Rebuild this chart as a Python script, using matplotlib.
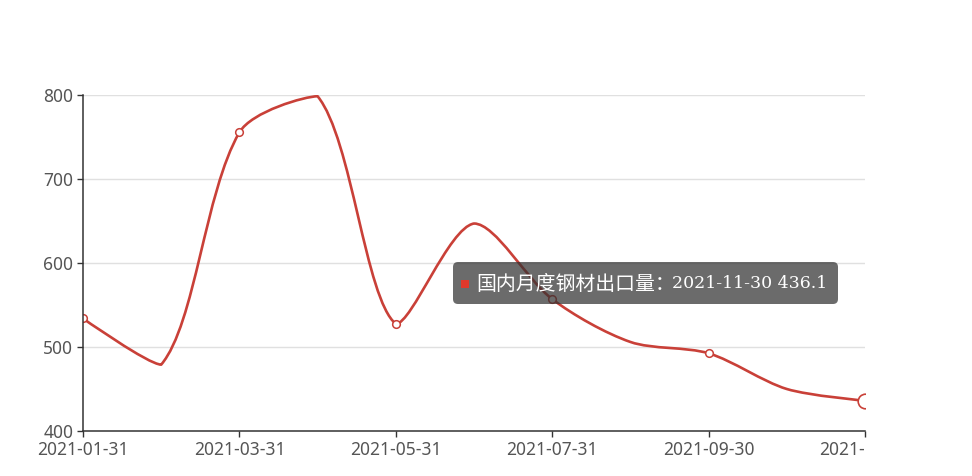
import matplotlib
matplotlib.use("Agg")
import matplotlib.pyplot as plt
import matplotlib.patches as mpatches
from matplotlib.path import Path
from matplotlib.transforms import IdentityTransform, Bbox
import numpy as np

# ---- data ----
months = ['2021-01-31', '2021-02-28', '2021-03-31', '2021-04-30', '2021-05-31',
          '2021-06-30', '2021-07-31', '2021-08-31', '2021-09-30', '2021-10-31',
          '2021-11-30']
values = [534.0, 479.0, 755.5, 798.5, 527.5, 647.0, 557.0, 506.0, 492.5, 450.0, 436.1]
series_name = '国内月度钢材出口量'
y_ticks = [400, 500, 600, 700, 800]
label_step = 2
hover_index = 10

LINE_C = '#c94038'
AX_C = '#333333'
TXT_C = '#555555'
GRID_C = '#e0e0e0'

W, H = 972, 476
fig = plt.figure(figsize=(W / 100, H / 100), dpi=100)
ax = fig.add_axes([83 / W, (H - 431) / H, (865 - 83) / W, (431 - 95) / H])

x = np.arange(len(months))
ax.set_xlim(0, len(months) - 1)
ax.set_ylim(y_ticks[0], y_ticks[-1])

for s in ['top', 'right']:
    ax.spines[s].set_visible(False)
for s in ['left', 'bottom']:
    ax.spines[s].set_color(AX_C)
    ax.spines[s].set_linewidth(1.1)
    ax.spines[s].set_zorder(5)

ax.set_yticks(y_ticks)
ax.set_yticklabels([str(v) for v in y_ticks])
ax.set_xticks(x[::label_step])
ax.set_xticklabels([months[i] for i in x[::label_step]])
ax.tick_params(axis='both', colors=AX_C, length=4.5, width=1.0, labelcolor=TXT_C,
               labelsize=12.5)
ax.tick_params(axis='y', pad=2.5)
ax.tick_params(axis='x', pad=2.5)
for lab in ax.get_xticklabels() + ax.get_yticklabels():
    lab.set_fontfamily('Noto Sans')

for v in y_ticks[1:]:
    ax.axhline(v, color=GRID_C, lw=1.0, zorder=1)

# ---- ECharts-like smooth line (each control point clamped to its segment box) ----
pts = ax.transData.transform(np.column_stack([x, values]))
smooth = 0.3
n = len(pts)
verts = [tuple(pts[0])]
codes = [Path.MOVETO]
cp0 = pts[0].copy()
for idx in range(1, n):
    p = pts[idx]
    prevP = pts[idx - 1]
    if idx + 1 >= n:
        cp1 = p.copy()
        nxt = p.copy()
    else:
        nextP = pts[idx + 1]
        v = nextP - prevP
        lp = np.hypot(*(p - prevP))
        ln = np.hypot(*(p - nextP))
        r = ln / (ln + lp)
        cp1 = p - v * smooth * (1 - r)
        cp1 = np.minimum(np.maximum(cp1, np.minimum(prevP, p)), np.maximum(prevP, p))
        nxt = p + v * smooth * r
        nxt = np.minimum(np.maximum(nxt, np.minimum(nextP, p)), np.maximum(nextP, p))
    verts += [tuple(cp0), tuple(cp1), tuple(p)]
    codes += [Path.CURVE4] * 3
    cp0 = nxt

data_verts = ax.transData.inverted().transform(np.array(verts))
patch = mpatches.PathPatch(Path(data_verts, codes), fill=False, edgecolor=LINE_C,
                           lw=1.9, zorder=3, capstyle='round', joinstyle='round')
ax.add_patch(patch)

# markers
shown = [i for i in range(0, n, label_step) if i != hover_index]
ax.plot([x[i] for i in shown], [values[i] for i in shown], 'o', ms=5.5,
        mfc='white', mec=LINE_C, mew=1.1, zorder=4, linestyle='none')
ax.plot([x[hover_index]], [values[hover_index]], 'o', ms=10.5, mfc='white',
        mec=LINE_C, mew=1.2, zorder=4, linestyle='none')

# clip the last x tick label at the chart's right edge
clip = Bbox.from_extents(0, 0, 866, H)
for lab in ax.get_xticklabels():
    lab.set_clip_box(clip)
    lab.set_clip_on(True)

# ---- tooltip ----
box = mpatches.FancyBboxPatch((453, H - 304), 385, 42,
                              boxstyle='round,pad=0,rounding_size=5',
                              transform=IdentityTransform(),
                              facecolor=(50 / 255, 50 / 255, 50 / 255, 0.72),
                              edgecolor='none', zorder=10)
fig.patches.append(box)
sq = mpatches.Rectangle((461, H - 288), 8, 8, transform=IdentityTransform(),
                        facecolor='#e0392b', edgecolor='none', zorder=11)
fig.patches.append(sq)
fig.text(476 / W, (H - 284) / H, series_name + '：', color='white', fontsize=14.3,
         family=['Noto Sans CJK SC', 'DejaVu Sans'], va='center', ha='left', zorder=12)
fig.text(672 / W, (H - 284) / H, months[hover_index] + ' ' + str(values[hover_index]),
         color='white', fontsize=12.5, family=['DejaVu Serif', 'DejaVu Sans'],
         va='center', ha='left', zorder=12)

fig.savefig('out.png', dpi=100)
